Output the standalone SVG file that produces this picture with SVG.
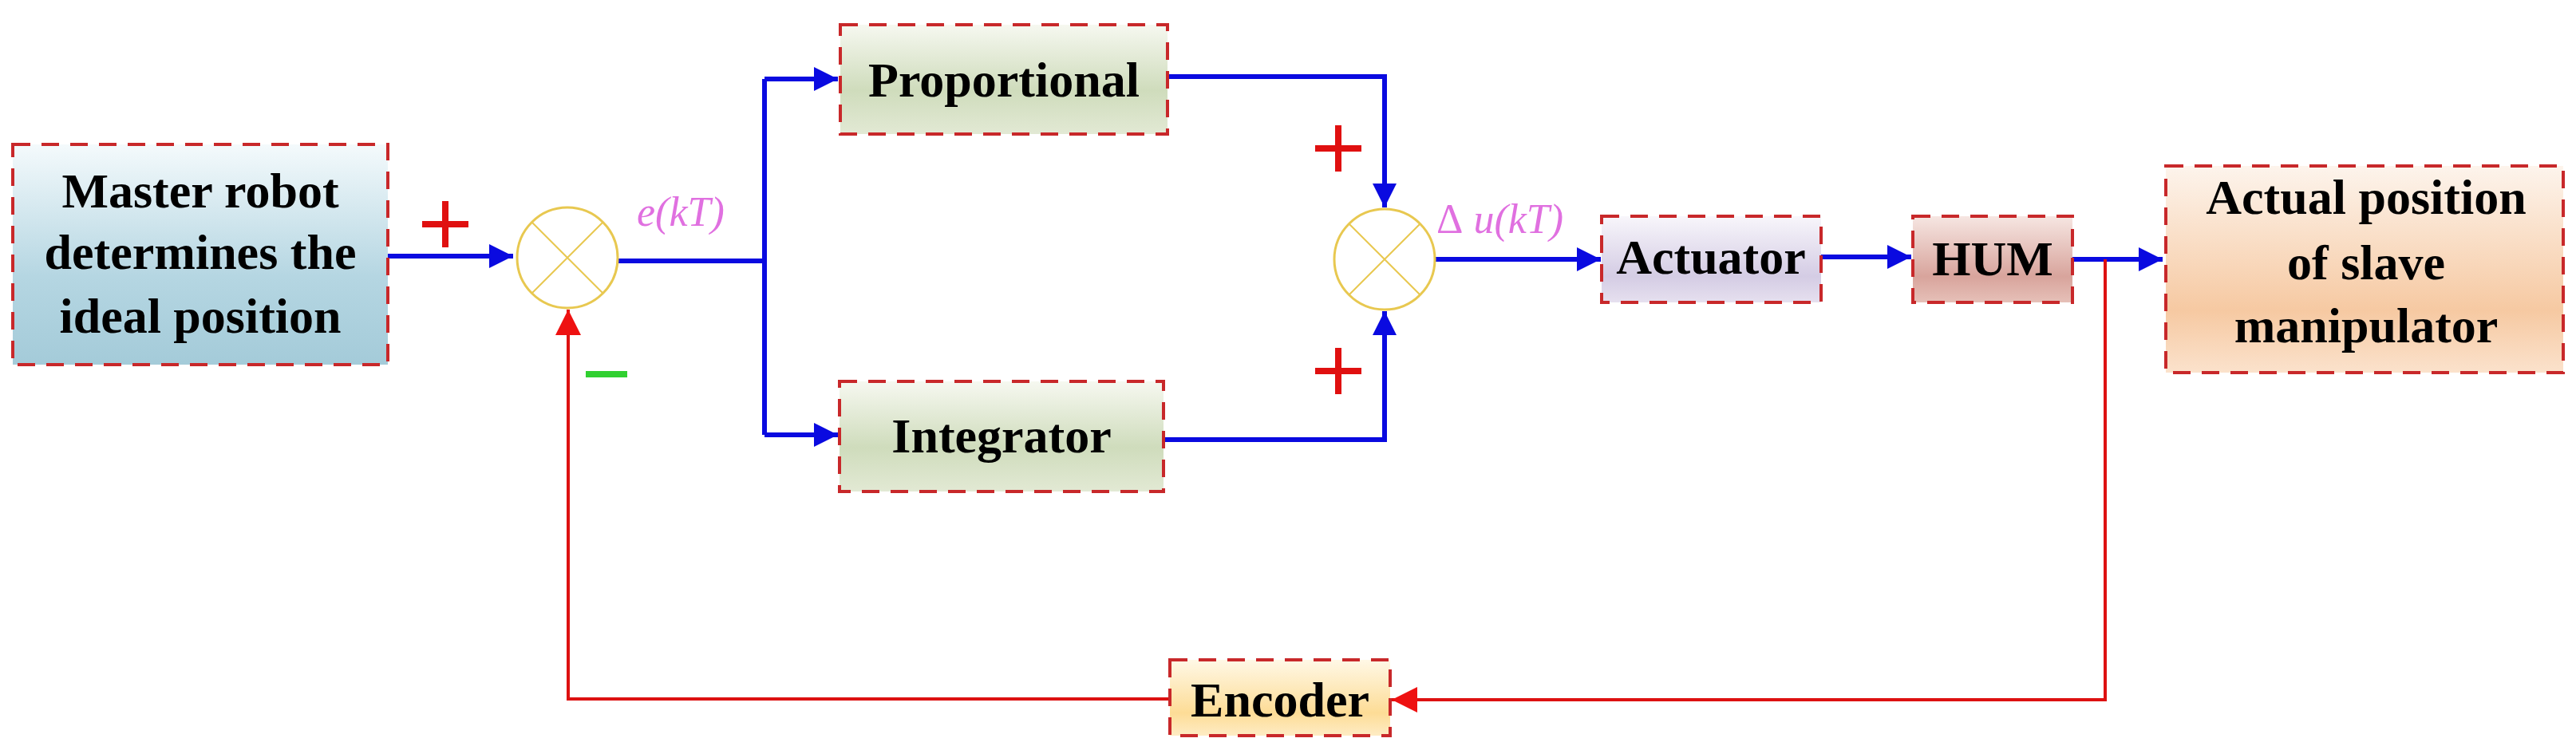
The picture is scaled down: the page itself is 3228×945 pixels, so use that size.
<svg xmlns="http://www.w3.org/2000/svg" width="3228" height="945" viewBox="0 0 3228 945">
<defs>
<style>
.box{stroke:#c8282a;stroke-width:4;stroke-dasharray:22 14}
.t{font-family:"Liberation Serif",serif;font-weight:bold;font-size:62px;fill:#000;text-anchor:middle}
.b{fill:none;stroke:#0a0ae0;stroke-width:6}
.r{fill:none;stroke:#dd1111;stroke-width:4}
.sum{fill:#fff;stroke:#e8c850;stroke-width:3}
.x{stroke:#e8c850;stroke-width:2}
.lab{font-family:"Liberation Serif",serif;font-style:italic;font-size:52px;fill:#e070e0}
.plus{stroke:#e01010;stroke-width:8}
</style>
<linearGradient id="gBlue" x1="0" y1="0" x2="0" y2="1"><stop offset="0" stop-color="#f4fafc"/><stop offset="0.6" stop-color="#b5d6e2"/><stop offset="1" stop-color="#a4cbd9"/></linearGradient>
<linearGradient id="gGreen" x1="0" y1="0" x2="0" y2="1"><stop offset="0" stop-color="#f6f8f0"/><stop offset="0.6" stop-color="#cfdcbc"/><stop offset="1" stop-color="#e2e9d4"/></linearGradient>
<linearGradient id="gLav" x1="0" y1="0" x2="0" y2="1"><stop offset="0" stop-color="#f8f6fb"/><stop offset="0.7" stop-color="#d4cce4"/><stop offset="1" stop-color="#e6e0ef"/></linearGradient>
<linearGradient id="gHum" x1="0" y1="0" x2="0" y2="1"><stop offset="0" stop-color="#f6e6e2"/><stop offset="0.7" stop-color="#d8a49c"/><stop offset="1" stop-color="#e6c0b8"/></linearGradient>
<linearGradient id="gPeach" x1="0" y1="0" x2="0" y2="1"><stop offset="0" stop-color="#fdf4ec"/><stop offset="0.7" stop-color="#f6c9a2"/><stop offset="1" stop-color="#fbe2cc"/></linearGradient>
<linearGradient id="gYel" x1="0" y1="0" x2="0" y2="1"><stop offset="0" stop-color="#fff8e6"/><stop offset="0.7" stop-color="#fddc96"/><stop offset="1" stop-color="#feecc4"/></linearGradient>
<marker id="ab" viewBox="0 0 10 10" refX="10" refY="5" markerWidth="5" markerHeight="6" markerUnits="strokeWidth" orient="auto"><path d="M0,0L10,5L0,10z" fill="#0a0ae0"/></marker>
<marker id="ar" viewBox="0 0 10 10" refX="10" refY="5" markerWidth="8" markerHeight="9" markerUnits="strokeWidth" orient="auto"><path d="M0,0L10,5L0,10z" fill="#ee1111"/></marker>
</defs>
<rect width="3228" height="945" fill="#fff"/>
<g id="connectors">
<path class="b" d="M486,321H643" marker-end="url(#ab)"/>
<path class="b" d="M774,327H958"/>
<path class="b" d="M958,99V545"/>
<path class="b" d="M958,99H1050" marker-end="url(#ab)"/>
<path class="b" d="M958,545H1050" marker-end="url(#ab)"/>
<path class="b" d="M1463,96H1735V260" marker-end="url(#ab)"/>
<path class="b" d="M1458,551H1735V390" marker-end="url(#ab)"/>
<path class="b" d="M1797,325H2006" marker-end="url(#ab)"/>
<path class="b" d="M2282,322H2395" marker-end="url(#ab)"/>
<path class="b" d="M2597,325H2710" marker-end="url(#ab)"/>
<path class="r" d="M2638,325V877H1744" marker-end="url(#ar)"/>
<path class="r" d="M1466,876H712V388" marker-end="url(#ar)"/>
</g>
<g id="master"><rect class="box" x="16" y="181" width="470" height="276" fill="url(#gBlue)"/>
<text class="t" x="251" y="260">Master robot</text><text class="t" x="251" y="337">determines the</text><text class="t" x="251" y="417">ideal position</text></g>
<g id="sum1"><circle class="sum" cx="711" cy="323" r="63"/><path class="x" d="M666.5,278.5L755.5,367.5M755.5,278.5L666.5,367.5"/></g>
<g id="proportional"><rect class="box" x="1053" y="31" width="410" height="137" fill="url(#gGreen)"/><text class="t" x="1258" y="121">Proportional</text></g>
<g id="integrator"><rect class="box" x="1052" y="478" width="406" height="138" fill="url(#gGreen)"/><text class="t" x="1255" y="567">Integrator</text></g>
<g id="sum2"><circle class="sum" cx="1735" cy="325" r="63"/><path class="x" d="M1690.5,280.5L1779.5,369.5M1779.5,280.5L1690.5,369.5"/></g>
<g id="actuator"><rect class="box" x="2007" y="271" width="275" height="108" fill="url(#gLav)"/><text class="t" x="2144" y="343">Actuator</text></g>
<g id="hum"><rect class="box" x="2397" y="271" width="200" height="108" fill="url(#gHum)"/><text class="t" x="2497" y="345">HUM</text></g>
<g id="actual"><rect class="box" x="2714" y="208" width="498" height="259" fill="url(#gPeach)"/>
<text class="t" x="2965" y="268">Actual position</text><text class="t" x="2965" y="350">of slave</text><text class="t" x="2965" y="429">manipulator</text></g>
<g id="encoder"><rect class="box" x="1466" y="827" width="276" height="95" fill="url(#gYel)"/><text class="t" x="1604" y="898">Encoder</text></g>
<g id="labels">
<path class="plus" d="M529,281H587M558,252V310"/>
<path stroke="#30d030" stroke-width="8" d="M734,469H786"/>
<path class="plus" d="M1648,186H1706M1677,157V215"/>
<path class="plus" d="M1648,465H1706M1677,436V494"/>
<text class="lab" x="798" y="283">e(kT)</text>
<text class="lab" x="1800" y="292"><tspan font-style="normal">Δ</tspan> u(kT)</text>
</g>
</svg>
